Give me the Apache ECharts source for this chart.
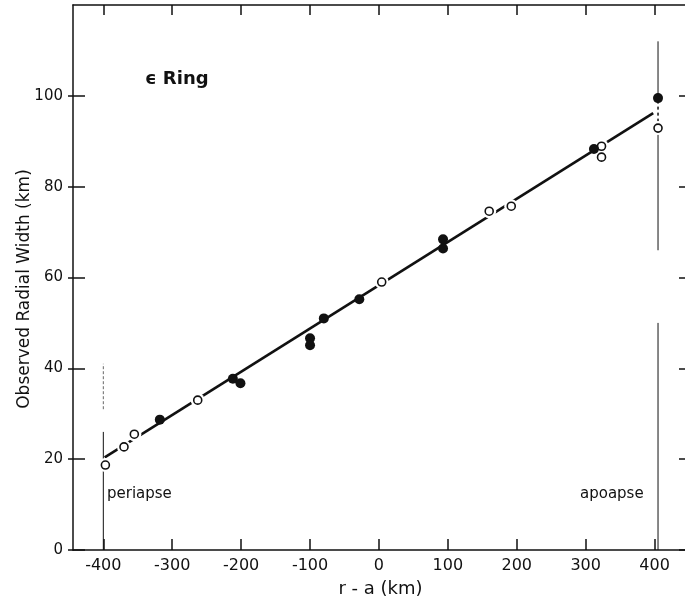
<!DOCTYPE html>
<html>
<head>
<meta charset="utf-8">
<script src="https://cdn.jsdelivr.net/npm/echarts@6/dist/echarts.min.js"></script>
<style>
  html, body { margin: 0; padding: 0; background: #fff; }
  #chart { width: 685px; height: 597px; }
</style>
</head>
<body>
<div id="chart"></div>
<script>
// Tick positions on both axes
const xTicks = [-400, -300, -200, -100, 0, 100, 200, 300, 400];
const yTicks = [0, 20, 40, 60, 80, 100];

// Filled-circle measurements: r - a (km) and observed radial width (km)
const filledX = [-318, -212, -201, -100, -100, -80, -28.5, 93, 93, 312, 405];
const filledY = [28.7, 37.7, 36.7, 46.6, 45.1, 51.0, 55.2, 68.4, 66.4, 88.3, 99.5];

// Open-circle measurements
const openX = [-397, -370, -355, -263, 4, 160, 192, 323, 323, 405];
const openY = [18.7, 22.7, 25.5, 33.0, 59.0, 74.6, 75.7, 88.9, 86.5, 92.9];

// Linear fit end points
const fitX = [-398, 398];
const fitY = [20.4, 96.2];

// Periapse and apoapse markers
const periX = -400;
const periSolid = [0, 26];
const periFaint = [31, 41];
const apoX = 405;
const apoLow = [0, 50];
const apoMid = [66, 93];
const apoDash = [93, 99.5];
const apoHigh = [99.5, 112];

const zip = (xs, ys) => xs.map((x, i) => [x, ys[i]]);
const vseg = (x, ys) => ys.map(y => [x, y]);

const FONT = 'DejaVu Sans';
const BLACK = '#111';

const chart = echarts.init(document.getElementById('chart'), null, { renderer: 'canvas' });

const vline = (data, opts) => Object.assign({
  type: 'line', data, symbol: 'none', silent: true, z: 1,
  lineStyle: { color: BLACK, width: 1 }
}, opts || {});

const X_MIN = -444, X_MAX = 448.5;

chart.setOption({
  animation: false,
  backgroundColor: '#fff',
  grid: { left: 73, top: 5, width: 615, height: 545, containLabel: false, outerBoundsMode: 'none' },
  xAxis: [
    {
      type: 'value', position: 'bottom', min: X_MIN, max: X_MAX,
      name: 'r - a (km)', nameLocation: 'middle', nameGap: 30,
      nameTextStyle: { fontFamily: FONT, fontSize: 18, color: BLACK },
      axisLine: { show: true, onZero: false, lineStyle: { color: BLACK, width: 1.5 } },
      axisTick: { show: true, inside: true, length: 11, customValues: xTicks, lineStyle: { color: BLACK, width: 1.5 } },
      axisLabel: { customValues: xTicks, fontFamily: FONT, fontSize: 16, color: BLACK, margin: 8 },
      splitLine: { show: false }
    },
    {
      type: 'value', position: 'top', min: X_MIN, max: X_MAX,
      axisLine: { show: true, onZero: false, lineStyle: { color: BLACK, width: 1.5 } },
      axisTick: { show: true, inside: true, length: 10, customValues: xTicks, lineStyle: { color: BLACK, width: 1.5 } },
      axisLabel: { show: false },
      splitLine: { show: false }
    }
  ],
  yAxis: [
    {
      type: 'value', position: 'left', min: 0, max: 120, interval: 20,
      axisLine: { show: true, onZero: false, lineStyle: { color: BLACK, width: 1.5 } },
      axisTick: { show: true, inside: true, length: 12, customValues: yTicks, lineStyle: { color: BLACK, width: 1.5 } },
      axisLabel: { customValues: yTicks, fontFamily: FONT, fontSize: 15, color: BLACK, margin: 10 },
      splitLine: { show: false }
    },
    {
      type: 'value', position: 'left', min: 0, max: 120,
      axisLine: { show: false, onZero: false },
      axisTick: { show: true, inside: false, length: 5, customValues: yTicks, lineStyle: { color: BLACK, width: 1.5 } },
      axisLabel: { show: false },
      splitLine: { show: false }
    },
    {
      type: 'value', position: 'right', min: 0, max: 120,
      axisLine: { show: false, onZero: false },
      axisTick: { show: true, inside: true, length: 9, customValues: yTicks, lineStyle: { color: BLACK, width: 1.5 } },
      axisLabel: { show: false },
      splitLine: { show: false }
    }
  ],
  graphic: [
    {
      type: 'text', x: 25, y: 289, rotation: Math.PI / 2,
      style: { text: 'Observed Radial Width (km)', font: '17px "DejaVu Sans"', fill: BLACK, align: 'center', verticalAlign: 'middle' }
    },
    { type: 'text', left: 145, top: 70, style: { text: 'ϵ Ring', font: 'bold 18px "DejaVu Sans"', fill: BLACK } },
    { type: 'text', left: 107, top: 487, style: { text: 'periapse', font: '15px "DejaVu Sans"', fill: BLACK } },
    { type: 'text', left: 580, top: 487, style: { text: 'apoapse', font: '15px "DejaVu Sans"', fill: BLACK } }
  ],
  series: [
    vline(vseg(periX, periSolid)),
    vline(vseg(periX, periFaint), { lineStyle: { color: '#666', width: 1, type: [3, 2] } }),
    vline(vseg(apoX, apoLow)),
    vline(vseg(apoX, apoMid)),
    vline(vseg(apoX, apoDash), { lineStyle: { color: BLACK, width: 1.5, type: [3, 3] } }),
    vline(vseg(apoX, apoHigh)),
    {
      type: 'line', data: zip(fitX, fitY), symbol: 'none', silent: true, z: 2,
      lineStyle: { color: BLACK, width: 2.6 }
    },
    {
      // white halo breaking the fit line around open circles
      type: 'scatter', data: zip(openX, openY), symbol: 'circle', symbolSize: 14, silent: true, z: 3,
      itemStyle: { color: '#fff', opacity: 1 }
    },
    {
      type: 'scatter', data: zip(openX, openY), symbol: 'circle', symbolSize: 8, z: 4,
      itemStyle: { color: '#fff', borderColor: BLACK, borderWidth: 1.6, opacity: 1 }
    },
    {
      type: 'scatter', data: zip(filledX, filledY), symbol: 'circle', symbolSize: 10, z: 4,
      itemStyle: { color: BLACK, opacity: 1 }
    }
  ]
});
</script>
</body>
</html>
